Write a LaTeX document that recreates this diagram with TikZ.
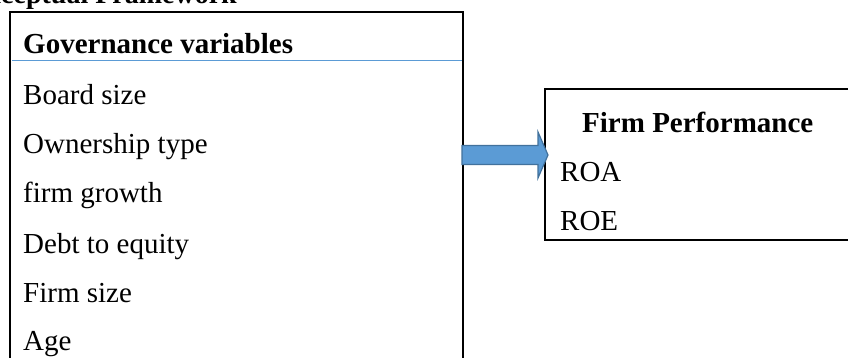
\documentclass[tikz,border=0pt]{standalone}
\usepackage{fontspec}
\setmainfont{Liberation Serif}
\usetikzlibrary{positioning}

\definecolor{arrowfill}{HTML}{5B9BD5}
\definecolor{arrowedge}{HTML}{41719C}
\definecolor{ruleblue}{HTML}{5B9BD5}

\tikzset{
  box/.style={draw=black, line width=1.8pt},
  item/.style={anchor=base west, inner sep=0pt, font=\fontsize{29}{34}\selectfont},
  head/.style={item, font=\fontsize{29}{34}\selectfont\bfseries},
  blockarrow/.style={fill=arrowfill, draw=arrowedge, line width=1.2pt, line join=miter}
}

\begin{document}
\begin{tikzpicture}[x=1pt, y=-1pt]

 \useasboundingbox (0,0) rectangle (848,358);
 \clip (0,0) rectangle (848,358);

 % title (cut at the top)
 \node[head, anchor=base east, font=\fontsize{28}{34}\selectfont\bfseries] (title) at (237,4) {Conceptual Framework};

 % boxes
 \coordinate (L1) at (10,12);
 \coordinate (L2) at (463,375);
 \coordinate (R1) at (545,89);
 \coordinate (R2) at (870,240);
 \draw[box] (L1) rectangle (L2);
 \draw[box] (R1) rectangle (R2);
 \draw[ruleblue, line width=1pt] (12,61) -- (462,61);

 % governance variables
 \node[head] (gov) at (23,54) {Governance variables};
 \node[item] (board)  at (23,105) {Board size};
 \node[item] (owner)  at (23,154) {Ownership type};
 \node[item] (growth) at (23,203) {firm growth};
 \node[item] (debt)   at (23,253) {Debt to equity};
 \node[item] (fsize)  at (23,302) {Firm size};
 \node[item] (age)    at (23,350) {Age};

 % firm performance
 \node[head] (perf) at (582,133) {Firm Performance};
 \node[item] (roa)  at (560,182) {ROA};
 \node[item] (roe)  at (560,230) {ROE};

 % arrow
 \coordinate (arrS) at (462,155);
 \coordinate (arrE) at (548,155);
 \draw[blockarrow] (arrS) ++(0,-9.5) -- ++(76,0) -- ++(0,-13.5) -- (arrE)
   -- ++(-10,23) -- ++(0,-13.5) -- ++(-76,0) -- cycle;

\end{tikzpicture}
\end{document}
